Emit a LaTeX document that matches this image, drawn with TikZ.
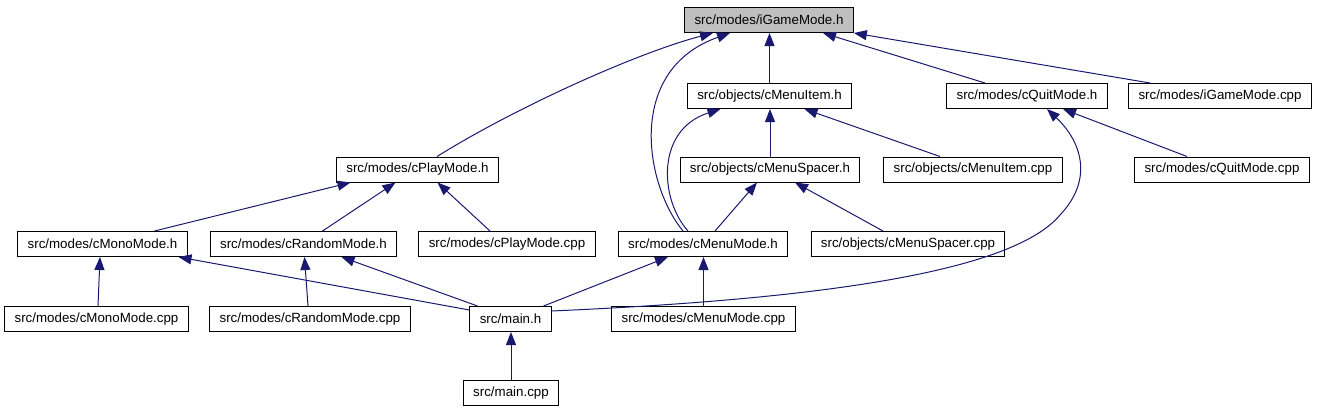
\documentclass[tikz,border=0pt]{standalone}
\usepackage{fontspec}
\setmainfont{Liberation Sans}
\usepackage{tikz}
\usetikzlibrary{calc,arrows.meta}
\definecolor{depblue}{RGB}{25,25,112}

\begin{document}
\begin{tikzpicture}[x=0.75pt, y=-0.75pt,
    file/.style={draw=black, line width=0.75pt, fill=white, inner xsep=7.4pt, inner ysep=0pt,
                 minimum height=18.75pt, font=\fontsize{10}{12}\selectfont},
    dep/.style={depblue, line width=0.75pt, -{Triangle[length=9.75pt, width=7.5pt]}}]
  \useasboundingbox (0,0) rectangle (1317,411);

  % header and its direct includers
  \node[file, fill=black!25] (ig)  at (769,20)    {src/modes/iGameMode.h};
  \node[file] (mi)  at (769.5,96)  {src/objects/cMenuItem.h};
  \node[file] (qm)  at (1027,96)   {src/modes/cQuitMode.h};
  \node[file] (igc) at (1220,96)   {src/modes/iGameMode.cpp};
  \node[file] (pm)  at (417.5,169.5) {src/modes/cPlayMode.h};
  \node[file] (ms)  at (770,169.5) {src/objects/cMenuSpacer.h};
  \node[file] (mic) at (973,169.5) {src/objects/cMenuItem.cpp};
  \node[file] (qmc) at (1222,169.5) {src/modes/cQuitMode.cpp};
  \node[file] (mo)  at (102.5,244) {src/modes/cMonoMode.h};
  \node[file] (rm)  at (303.5,244) {src/modes/cRandomMode.h};
  \node[file] (pmc) at (507,244)   {src/modes/cPlayMode.cpp};
  \node[file] (mm)  at (703,244)   {src/modes/cMenuMode.h};
  \node[file] (msc) at (908,244)   {src/objects/cMenuSpacer.cpp};
  \node[file] (moc) at (96.5,319)  {src/modes/cMonoMode.cpp};
  \node[file] (rmc) at (310,319)   {src/modes/cRandomMode.cpp};
  \node[file] (mh)  at (510.5,319) {src/main.h};
  \node[file] (mmc) at (703.5,319) {src/modes/cMenuMode.cpp};
  \node[file] (mc)  at (511,393)   {src/main.cpp};

  % includes into iGameMode.h
  \draw[dep] ($(pm.north)+(19.5,0)$) .. controls (520,105) and (640,52) .. ($(ig.south)+(-56,0)$);
  \draw[dep] ($(mm.north)+(-20,0)$) .. controls (645,185) and (625,70) .. ($(ig.south)+(-39,0)$);
  \draw[dep] (mi.north) -- (mi.north |- ig.south);
  \draw[dep] ($(qm.north)+(-42,0)$) -- ($(ig.south)+(54,0)$);
  \draw[dep] ($(igc.north)+(-70,0)$) -- (ig.south east);

  % second row
  \draw[dep] ($(mm.north)+(-15,0)$) .. controls (660,200) and (655,130) .. ($(mi.south)+(-49,0)$);
  \draw[dep] (ms.north) -- (ms.north |- mi.south);
  \draw[dep] ($(mic.north)+(-33,0)$) -- ($(mi.south)+(35,0)$);
  \draw[dep] ($(qmc.north)+(-35,0)$) -- ($(qm.south)+(36,0)$);
  \draw[dep] ($(mh.east)+(0,-8)$) .. controls (800,300) and (1010,275) .. (1060,215)
             .. controls (1095,178) and (1080,140) .. ($(qm.south)+(20,0)$);

  % third row
  \draw[dep] ($(mo.north)+(52,0)$) -- ($(pm.south)+(-67,0)$);
  \draw[dep] ($(rm.north)+(19,0)$) -- ($(pm.south)+(-22,0)$);
  \draw[dep] ($(pmc.north)+(-17,0)$) -- ($(pm.south)+(20,0)$);
  \draw[dep] ($(mm.north)+(12,0)$) -- ($(ms.south)+(-13,0)$);
  \draw[dep] ($(msc.north)+(-25,0)$) -- ($(ms.south)+(25,0)$);

  % bottom rows
  \draw[dep] ($(moc.north)+(1.5,0)$) -- ($(mo.south)+(-2.5,0)$);
  \draw[dep] ($(rmc.north)+(-2,0)$) -- ($(rm.south)+(1,0)$);
  \draw[dep] ($(mh.west)+(0,-9)$) -- ($(mo.south)+(76,0)$);
  \draw[dep] ($(mh.north)+(-33,0)$) -- ($(rm.south)+(38,0)$);
  \draw[dep] ($(mh.north)+(33,0)$) -- ($(mm.south)+(-35,0)$);
  \draw[dep] (mmc.north) -- (mmc.north |- mm.south);
  \draw[dep] (mc.north) -- (mc.north |- mh.south);
\end{tikzpicture}
\end{document}
